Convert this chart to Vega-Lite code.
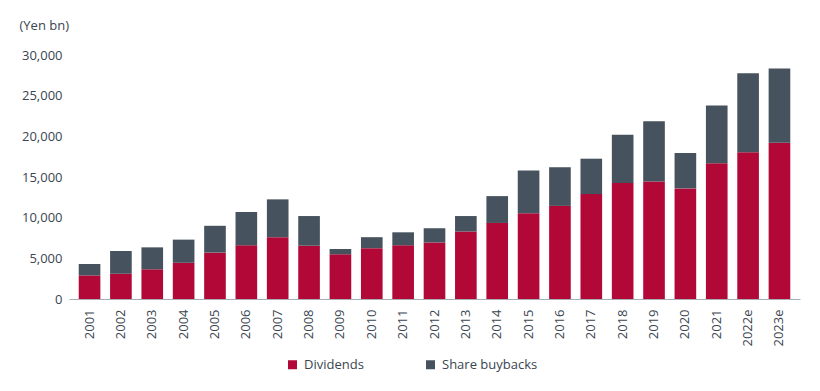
{
  "$schema": "https://vega.github.io/schema/vega-lite/v6.json",
  "width": 731,
  "height": 244,
  "autosize": {"type": "none"},
  "padding": {"left": 69, "top": 55, "right": 20, "bottom": 92},
  "background": "white",
  "config": {
    "view": {"stroke": null},
    "font": "Open Sans",
    "axis": {"labelFont": "Open Sans", "labelColor": "#3A4550", "titleColor": "#3A4550", "labelFontSize": 13},
    "legend": {"labelFont": "Open Sans", "labelColor": "#3A4550", "labelFontSize": 13}
  },
  "data": {
    "values": [
      {"year": "2001", "type": "Dividends", "value": 2900}, {"year": "2001", "type": "Share buybacks", "value": 1400},
      {"year": "2002", "type": "Dividends", "value": 3100}, {"year": "2002", "type": "Share buybacks", "value": 2800},
      {"year": "2003", "type": "Dividends", "value": 3650}, {"year": "2003", "type": "Share buybacks", "value": 2700},
      {"year": "2004", "type": "Dividends", "value": 4450}, {"year": "2004", "type": "Share buybacks", "value": 2850},
      {"year": "2005", "type": "Dividends", "value": 5700}, {"year": "2005", "type": "Share buybacks", "value": 3300},
      {"year": "2006", "type": "Dividends", "value": 6600}, {"year": "2006", "type": "Share buybacks", "value": 4100},
      {"year": "2007", "type": "Dividends", "value": 7600}, {"year": "2007", "type": "Share buybacks", "value": 4650},
      {"year": "2008", "type": "Dividends", "value": 6550}, {"year": "2008", "type": "Share buybacks", "value": 3650},
      {"year": "2009", "type": "Dividends", "value": 5500}, {"year": "2009", "type": "Share buybacks", "value": 650},
      {"year": "2010", "type": "Dividends", "value": 6250}, {"year": "2010", "type": "Share buybacks", "value": 1350},
      {"year": "2011", "type": "Dividends", "value": 6600}, {"year": "2011", "type": "Share buybacks", "value": 1600},
      {"year": "2012", "type": "Dividends", "value": 6950}, {"year": "2012", "type": "Share buybacks", "value": 1750},
      {"year": "2013", "type": "Dividends", "value": 8300}, {"year": "2013", "type": "Share buybacks", "value": 1900},
      {"year": "2014", "type": "Dividends", "value": 9350}, {"year": "2014", "type": "Share buybacks", "value": 3300},
      {"year": "2015", "type": "Dividends", "value": 10550}, {"year": "2015", "type": "Share buybacks", "value": 5250},
      {"year": "2016", "type": "Dividends", "value": 11450}, {"year": "2016", "type": "Share buybacks", "value": 4750},
      {"year": "2017", "type": "Dividends", "value": 12900}, {"year": "2017", "type": "Share buybacks", "value": 4350},
      {"year": "2018", "type": "Dividends", "value": 14250}, {"year": "2018", "type": "Share buybacks", "value": 5950},
      {"year": "2019", "type": "Dividends", "value": 14450}, {"year": "2019", "type": "Share buybacks", "value": 7400},
      {"year": "2020", "type": "Dividends", "value": 13600}, {"year": "2020", "type": "Share buybacks", "value": 4350},
      {"year": "2021", "type": "Dividends", "value": 16700}, {"year": "2021", "type": "Share buybacks", "value": 7100},
      {"year": "2022e", "type": "Dividends", "value": 18050}, {"year": "2022e", "type": "Share buybacks", "value": 9700},
      {"year": "2023e", "type": "Dividends", "value": 19200}, {"year": "2023e", "type": "Share buybacks", "value": 9150}
    ]
  },
  "mark": {"type": "bar"},
  "encoding": {
    "x": {
      "field": "year",
      "type": "nominal",
      "sort": null,
      "scale": {"paddingInner": 0.31, "paddingOuter": 0.31},
      "axis": {
        "title": null,
        "labelAngle": -90,
        "labelAlign": "right",
        "labelBaseline": "middle",
        "labelPadding": 10,
        "ticks": false,
        "domainColor": "#A7AFB5",
        "domainWidth": 1.2
      }
    },
    "y": {
      "field": "value",
      "type": "quantitative",
      "stack": "zero",
      "scale": {"domain": [0, 30000], "nice": false},
      "axis": {
        "title": "(Yen bn)",
        "titleAngle": 0,
        "titleAlign": "left",
        "titleBaseline": "middle",
        "titleX": -50,
        "titleY": -30,
        "titleFont": "Open Sans",
        "titleFontSize": 13,
        "titleFontWeight": "normal",
        "values": [0, 5000, 10000, 15000, 20000, 25000, 30000],
        "format": ",d",
        "grid": false,
        "domain": false,
        "ticks": false,
        "labelPadding": 7
      }
    },
    "color": {
      "field": "type",
      "type": "nominal",
      "scale": {"domain": ["Dividends", "Share buybacks"], "range": ["#B20838", "#46535E"]},
      "legend": {
        "title": null,
        "orient": "none",
        "direction": "horizontal",
        "legendX": 217,
        "legendY": 303,
        "symbolType": "square",
        "symbolSize": 81,
        "symbolStrokeWidth": 0,
        "labelOffset": 5,
        "columnPadding": 60
      }
    },
    "order": {"field": "type", "sort": "ascending"}
  }
}
